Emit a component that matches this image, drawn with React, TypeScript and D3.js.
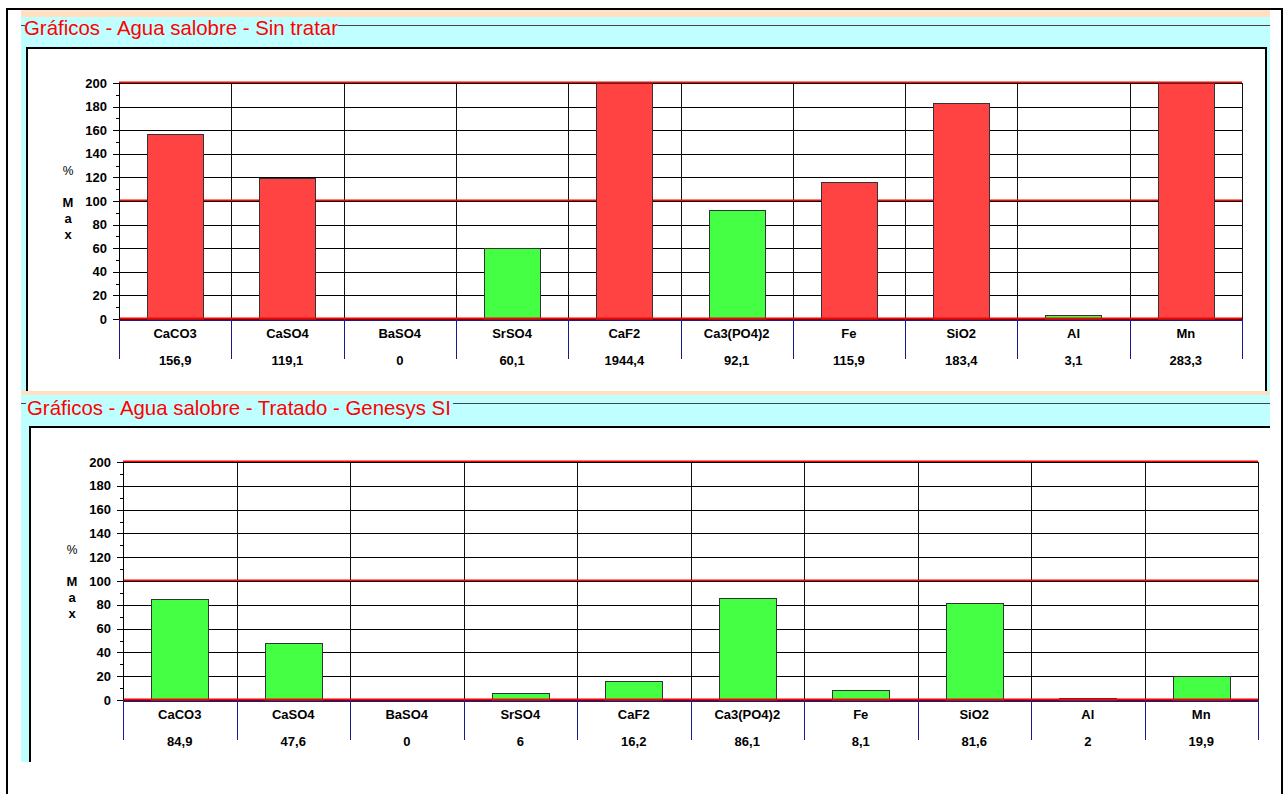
import React from "react";
import * as d3 from "d3";

// chart values (% of max)
const categories = ["CaCO3", "CaSO4", "BaSO4", "SrSO4", "CaF2", "Ca3(PO4)2", "Fe", "SiO2", "Al", "Mn"];
const untreatedValues = [156.9, 119.1, 0, 60.1, 1944.4, 92.1, 115.9, 183.4, 3.1, 283.3];
const treatedValues = [84.9, 47.6, 0, 6, 16.2, 86.1, 8.1, 81.6, 2, 19.9];
const yTicks = [0, 20, 40, 60, 80, 100, 120, 140, 160, 180, 200];
const limitLines = [200, 100];
const yLabel = ["M", "a", "x"];

const RED = "#ff4242";
const GREEN = "#44ff44";
const CYAN = "#c0ffff";
const PEACH = "#ffe0c0";
const FONT = "'Liberation Sans', Arial, sans-serif";

const fmt = (v: number) => String(v).replace(".", ",");

const BarChart = (props: any) => {
    const values: number[] = props.values;
    const left: number = props.left;
    const right: number = props.right;
    const top: number = props.top;
    const bottom: number = props.bottom;

    const yScale = d3.scaleLinear().domain([0, 200]).range([bottom, top]);
    const xCol = d3.scaleBand().domain(categories).range([left, right]).padding(0);
    const xBar = d3.scaleBand().domain(categories).range([left, right]).paddingInner(0.5).paddingOuter(0.25);
    const minor = d3.range(10, 200, 20);
    const bounds = categories.map((c) => xCol(c) as number).concat([right]);
    const px = (v: number) => Math.round(v) + 0.5;

    return (
        <g>
            {/* horizontal grid */}
            {yTicks.map((t) => (
                <line key={"g" + t} x1={left - 6} x2={right} y1={px(yScale(t))} y2={px(yScale(t))} stroke="#000" strokeWidth={1} />
            ))}
            {minor.map((t) => (
                <line key={"m" + t} x1={left - 3} x2={left} y1={px(yScale(t))} y2={px(yScale(t))} stroke="#000" strokeWidth={1} />
            ))}
            {/* vertical grid and blue ticks under axis */}
            {bounds.map((b, i) => (
                <g key={"v" + i}>
                    <line x1={px(b)} x2={px(b)} y1={yScale(200)} y2={yScale(0)} stroke="#111" strokeWidth={1} />
                    <line x1={px(b)} x2={px(b)} y1={yScale(0)} y2={yScale(0) + 40} stroke="#1a1a8c" strokeWidth={1} />
                </g>
            ))}
            {/* limit lines */}
            {limitLines.map((t) => (
                <g key={"l" + t}>
                    <line x1={left} x2={right} y1={Math.round(yScale(t)) - 0.5} y2={Math.round(yScale(t)) - 0.5} stroke="#ff0000" strokeWidth={2} />
                    <line x1={left} x2={right} y1={px(yScale(t))} y2={px(yScale(t))} stroke="#000" strokeWidth={1} />
                </g>
            ))}
            {/* bars */}
            {values.map((v, i) => {
                const c = categories[i];
                if (v <= 0) return null;
                const y = yScale(Math.min(v, 200));
                return (
                    <rect key={"b" + c} x={Math.round(xBar(c) as number) + 0.5} y={Math.round(y) + 0.5}
                        width={Math.round(xBar.bandwidth())} height={Math.round(yScale(0) - y)}
                        fill={v > 100 ? RED : GREEN} stroke="#333" strokeWidth={1} />
                );
            })}
            {/* zero line */}
            <line x1={left} x2={right} y1={Math.round(yScale(0)) - 0.5} y2={Math.round(yScale(0)) - 0.5} stroke="#ff0000" strokeWidth={2} />
            <line x1={left} x2={right} y1={px(yScale(0)) + 1} y2={px(yScale(0)) + 1} stroke="#1a1a8c" strokeWidth={1} />
            {/* y axis */}
            <line x1={px(left)} x2={px(left)} y1={yScale(200)} y2={yScale(0)} stroke="#000" strokeWidth={1} />
            {yTicks.map((t) => (
                <text key={"t" + t} x={left - 12} y={yScale(t)} dy="0.36em" textAnchor="end"
                    fontFamily={FONT} fontWeight="bold" fontSize={13} fill="#000">{t}</text>
            ))}
            <text x={left - 51} y={top + 92} textAnchor="middle" fontFamily={FONT} fontSize={12} fill="#000">%</text>
            {yLabel.map((s, i) => (
                <text key={"y" + i} x={left - 51} y={top + 124 + i * 16} textAnchor="middle"
                    fontFamily={FONT} fontWeight="bold" fontSize={13} fill="#000">{s}</text>
            ))}
            {/* category names and values */}
            {categories.map((c, i) => {
                const cx = (xCol(c) as number) + xCol.bandwidth() / 2;
                return (
                    <g key={"c" + c}>
                        <text x={cx} y={yScale(0) + 19} textAnchor="middle" fontFamily={FONT} fontWeight="bold" fontSize={13} fill="#000">{c}</text>
                        <text x={cx} y={yScale(0) + 46} textAnchor="middle" fontFamily={FONT} fontWeight="bold" fontSize={13} fill="#000">{fmt(values[i])}</text>
                    </g>
                );
            })}
        </g>
    );
};

const App = () => {
    return (
        <svg width={1284} height={794} style={{ position: "absolute", left: 0, top: 0, background: "#fff" }}>
            {/* outer frame */}
            <rect x={7} y={9} width={1275} height={800} fill="#fff" stroke="#000" strokeWidth={2} />

            {/* first group */}
            <rect x={21} y={10} width={1249} height={7} fill={PEACH} />
            <rect x={21} y={17} width={1249} height={374} fill={CYAN} />
            <line x1={21} x2={25} y1={25.5} y2={25.5} stroke="#444" />
            <line x1={338} x2={1270} y1={25.5} y2={25.5} stroke="#444" />
            <text x={24} y={35} fontFamily={FONT} fontSize={20.4} fill="#ff0000">Gráficos - Agua salobre - Sin tratar</text>
            <path d="M27,391 V48 H1266 V391" fill="#fff" stroke="#000" strokeWidth={2} />
            <BarChart values={untreatedValues} left={119} right={1242} top={83} bottom={319} />

            {/* second group */}
            <rect x={21} y={391} width={1249} height={4} fill={PEACH} />
            <rect x={21} y={395} width={1249} height={367} fill={CYAN} />
            <line x1={21} x2={26} y1={403.5} y2={403.5} stroke="#444" />
            <line x1={453} x2={1270} y1={403.5} y2={403.5} stroke="#444" />
            <text x={27} y={415} fontFamily={FONT} fontSize={20.4} fill="#ff0000">Gráficos - Agua salobre - Tratado - Genesys SI</text>
            <path d="M30,762 V427 H1270" fill="#fff" stroke="#000" strokeWidth={2} />
            <rect x={31} y={428} width={1239} height={334} fill="#fff" />
            <BarChart values={treatedValues} left={123} right={1258} top={462} bottom={700} />
        </svg>
    );
};

export default App;
